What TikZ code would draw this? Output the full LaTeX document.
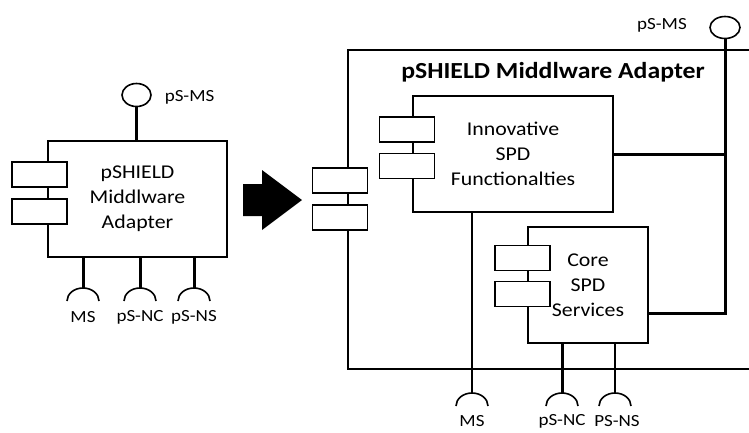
\documentclass[tikz,border=0pt]{standalone}
\usepackage{fontspec}
\setmainfont{Carlito}[FakeStretch=1.12]
\usetikzlibrary{positioning,calc,shapes.geometric}

\begin{document}
\begin{tikzpicture}[
  x=1pt,y=-1pt,
  line width=1.6pt,
  comp/.style={rectangle,draw,fill=white,inner sep=0pt,align=center,font=\fontsize{19.5}{25}\selectfont},
  port/.style={rectangle,draw,fill=white,inner sep=0pt,minimum width=55pt,minimum height=25pt},
  lolli/.style={ellipse,draw,fill=white,inner sep=0pt,minimum width=29pt,minimum height=23pt},
  lbl/.style={font=\fontsize{17}{19}\selectfont,inner sep=1pt},
  wire/.style={line width=1.6pt},
  bus/.style={line width=3pt}
]
\useasboundingbox (0,0) rectangle (749,432);

% left component
\node[comp,minimum width=179pt,minimum height=116pt] (adl) at (137.5,199) {pSHIELD\\Middlware\\Adapter};
\node[port] (pl1) at (39.5,174.5) {};
\node[port] (pl2) at (39.5,211.5) {};
\node[lolli] (msl) at (136.5,95) {};
\node[lbl,anchor=west] at (163,97) {pS-MS};
\draw[bus] (msl) -- (adl.north -| msl);
\foreach \x/\t in {83/MS,140/pS-NC,194/pS-NS}{
  \coordinate (sl\x) at (\x,288);
  \draw[bus] (adl.south -| sl\x) -- (sl\x);
  \draw[wire] ($(sl\x)+(-16,13)$) arc[start angle=180,end angle=360,x radius=16,y radius=13];
  \node[lbl] at (\x,317) {\t};
}

% arrow
\coordinate (go) at (243,200);
\fill (go) ++(0,-16) -- ++(19,0) -- ++(0,-14) -- (302,200) -- (262,230) -- ++(0,-14) -- ++(-19,0) -- cycle;

% right component
\node[rectangle,draw,inner sep=0pt,minimum width=442pt,minimum height=319pt] (adr) at (569,209.5) {};
\node[font=\bfseries\fontsize{23}{25}\selectfont] (title) at (553,72) {pSHIELD Middlware Adapter};
\node[port] (pr1) at (340,180.5) {};
\node[port] (pr2) at (340,217.5) {};

\node[comp,minimum width=200pt,minimum height=116pt] (isf) at (513,154) {Innovative\\SPD\\Functionalties};
\node[port] (pi1) at (407,129.5) {};
\node[port] (pi2) at (407,166) {};

\node[comp,minimum width=120pt,minimum height=116pt] (css) at (588,285) {Core\\SPD\\Services};
\node[port] (pc1) at (522.5,258) {};
\node[port] (pc2) at (522.5,294) {};

\node[lolli,minimum width=30pt,minimum height=22pt] (msr) at (725,27.5) {};
\node[lbl] at (662,25) {pS-MS};
\coordinate (busend) at (725,313);
\draw[bus] (isf.east) -- (isf.east -| busend);
\draw[bus] (css.east |- busend) -- (busend) -- (msr.south);

\foreach \x/\t in {472/MS,562/pS-NC,617/PS-NS}{
  \coordinate (sr\x) at (\x,393);
  \node[lbl] at (\x,421) {\t};
}
\foreach \x in {472,562,615}
  \draw[wire] ($(\x,393)+(-16,13)$) arc[start angle=180,end angle=360,x radius=16,y radius=13];
\draw[wire] (isf.south -| sr472) -- (sr472);
\draw[bus] (css.south -| sr562) -- (sr562);
\draw[wire] (css.south -| 615,393) -- (615,393);
\end{tikzpicture}
\end{document}
